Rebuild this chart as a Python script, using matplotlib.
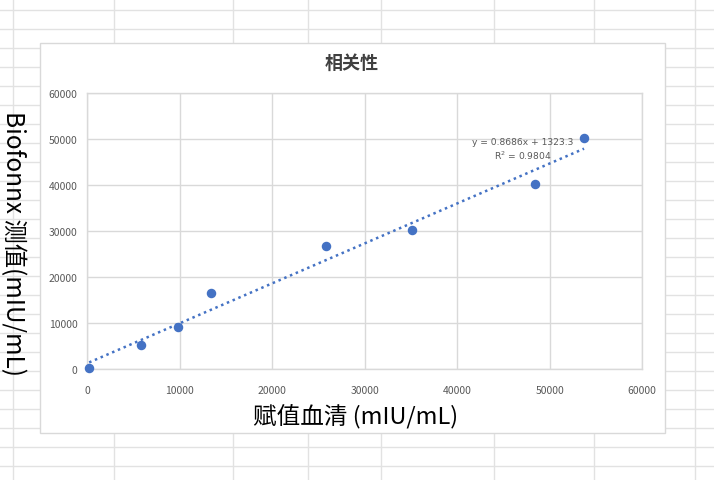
import numpy as np
import matplotlib
matplotlib.use("Agg")
import matplotlib.pyplot as plt
from matplotlib.patches import Rectangle

plt.rcParams['font.family'] = ['Noto Sans CJK SC', 'DejaVu Sans']

# Data
assigned = [200, 5800, 9800, 13400, 25800, 35100, 48400, 53700]
measured = [200, 5200, 9150, 16500, 26800, 30300, 40200, 50300]
slope, intercept = 0.8686, 1323.3
title = "相关性"
xlabel = "赋值血清 (mIU/mL)"
ylabel = "Biofonnx 测值(mIU/mL)"
ticks = [0, 10000, 20000, 30000, 40000, 50000, 60000]

W, H = 714, 481
fig = plt.figure(figsize=(W / 100, H / 100), dpi=100)

# Spreadsheet background grid
bg = fig.add_axes([0, 0, 1, 1])
bg.set_xlim(0, W)
bg.set_ylim(H, 0)
bg.axis('off')
for cx in [13.3, 114.3, 233.3, 308, 380.7, 493.6, 594.3, 695.3]:
    bg.axvline(cx, color='#e2e2e2', lw=1)
for ry in np.arange(11.3, H, 19):
    bg.axhline(ry, color='#e2e2e2', lw=1)

# Chart area
bg.add_patch(Rectangle((39.5, 43.5), 625, 390, facecolor='white',
                       edgecolor='#d9d9d9', lw=1, zorder=3))

L, R, T, B = 87.3, 642.3, 94.3, 370.3
ax = fig.add_axes([L / W, 1 - B / H, (R - L) / W, (B - T) / H])
ax.set_zorder(5)
ax.set_facecolor('white')
ax.set_xlim(0, 60000)
ax.set_ylim(0, 60000)
ax.set_xticks(ticks)
ax.set_yticks(ticks)
ax.set_xticklabels([str(t) for t in ticks])
ax.set_yticklabels([str(t) for t in ticks])
ax.grid(True, color='#d9d9d9', lw=1)
ax.set_axisbelow(True)
for s in ax.spines.values():
    s.set_color('#d9d9d9')
    s.set_linewidth(1)
ax.tick_params(length=0, labelsize=7.5, colors='#595959', pad=7)
ax.tick_params(axis='x', pad=11)

# Trendline
xs = np.array([min(assigned), max(assigned)])
ax.plot(xs, slope * xs + intercept, linestyle=(0, (1, 1.5)), color='#4472C4',
        lw=1.8, zorder=3)
ax.scatter(assigned, measured, s=34, color='#4472C4', zorder=4, clip_on=False)

ax.text(47100, 49630, "y = 0.8686x + 1323.3", fontsize=6.6, color='#595959',
        ha='center', va='center', family=['DejaVu Sans'])
ax.text(47100, 46590, "R$^2$ = 0.9804", fontsize=6.6, color='#595959',
        ha='center', va='center', family=['DejaVu Sans'])

fig.text(352 / W, 1 - 63 / H, title, fontsize=13, fontweight='bold',
         color='#404040', ha='center', va='center')
fig.text(356 / W, 1 - 417 / H, xlabel, fontsize=17, color='black',
         ha='center', va='center')
fig.text(13 / W, 1 - 244 / H, ylabel, fontsize=17.5, color='black',
         ha='center', va='center', rotation=-90)

fig.savefig('out.png', dpi=100)
